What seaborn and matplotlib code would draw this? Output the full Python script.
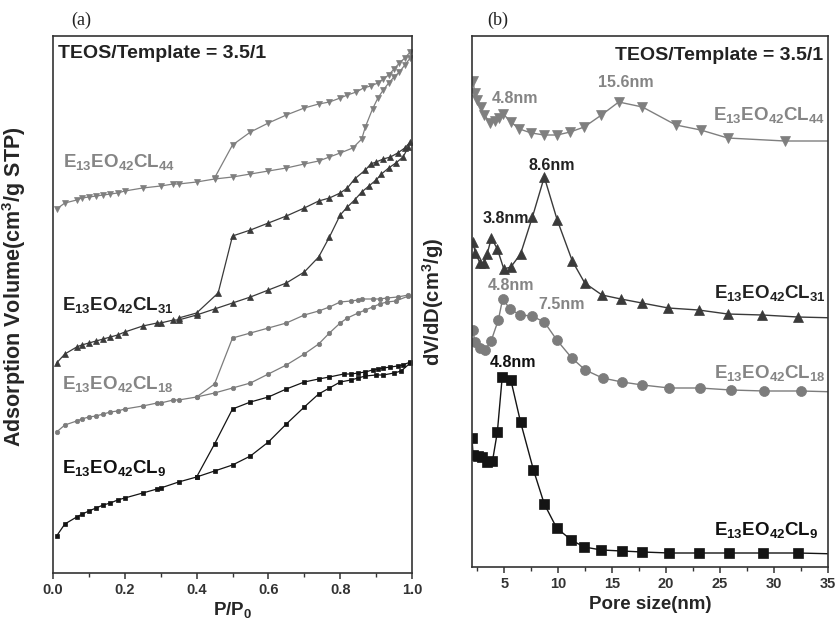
import matplotlib
matplotlib.use("Agg")
import matplotlib.pyplot as plt
import seaborn as sns
from matplotlib.ticker import MultipleLocator

# ---------------- data: panel (a) isotherms (arbitrary volume units) ----------------
p9_ads = [0.01, 0.033, 0.066, 0.082, 0.10, 0.12, 0.14, 0.16, 0.18, 0.20, 0.25, 0.29, 0.30, 0.35, 0.40,
          0.45, 0.50, 0.55, 0.60, 0.65, 0.70, 0.74, 0.77, 0.80, 0.83, 0.85, 0.87, 0.90, 0.92, 0.95, 0.97, 0.995]
v9_ads = [37, 49, 56, 59, 62, 65, 68, 70, 73, 75, 80, 84, 85, 91, 96,
          102, 108, 117, 131, 149, 166, 179, 185, 191, 193, 195, 197, 198, 198, 200, 202, 210]
p9_des = [0.995, 0.975, 0.96, 0.94, 0.92, 0.905, 0.89, 0.87, 0.85, 0.83, 0.81, 0.77, 0.74, 0.70, 0.65,
          0.60, 0.55, 0.50, 0.45, 0.40]
v9_des = [211, 208, 207, 206, 205, 204, 203, 201, 200, 199, 199, 196, 194, 191, 184,
          176, 171, 164, 129, 96]

p18_ads = [0.01, 0.033, 0.066, 0.08, 0.10, 0.12, 0.14, 0.16, 0.18, 0.20, 0.25, 0.29, 0.30, 0.335, 0.35,
           0.40, 0.45, 0.50, 0.55, 0.60, 0.65, 0.70, 0.74, 0.77, 0.80, 0.82, 0.85, 0.87, 0.89, 0.91,
           0.93, 0.955, 0.99]
v18_ads = [141, 148, 152, 154, 156, 157, 159, 161, 162, 164, 167, 170, 170, 173, 173,
           176, 180, 185, 190, 199, 208, 219, 229, 240, 250, 255, 260, 263, 266, 269,
           271, 272, 277]
p18_des = [0.99, 0.96, 0.93, 0.91, 0.89, 0.86, 0.85, 0.83, 0.80, 0.77, 0.74, 0.70, 0.65, 0.60, 0.55,
           0.50, 0.45, 0.40]
v18_des = [278, 276, 275, 274, 274, 274, 273, 272, 271, 266, 262, 258, 250, 245, 240,
           235, 189, 176]

p31_ads = [0.01, 0.033, 0.066, 0.08, 0.10, 0.12, 0.14, 0.16, 0.18, 0.20, 0.25, 0.29, 0.30, 0.335, 0.35,
           0.40, 0.45, 0.50, 0.55, 0.60, 0.65, 0.70, 0.74, 0.77, 0.80, 0.82, 0.84, 0.86, 0.88, 0.90,
           0.915, 0.935, 0.955, 0.975, 0.99]
v31_ads = [210, 219, 226, 228, 230, 232, 234, 236, 238, 241, 247, 250, 250, 253, 253,
           258, 264, 270, 276, 283, 290, 301, 316, 336, 358, 366, 373, 381, 387, 393,
           399, 405, 410, 416, 426]
p31_des = [0.995, 0.98, 0.96, 0.94, 0.92, 0.90, 0.885, 0.87, 0.84, 0.82, 0.80, 0.77, 0.74, 0.70, 0.65,
           0.60, 0.55, 0.50, 0.46, 0.40, 0.35]
v31_des = [431, 425, 420, 416, 414, 411, 409, 403, 394, 385, 380, 375, 372, 365, 357,
           350, 343, 337, 280, 260, 255]

p44_ads = [0.01, 0.033, 0.066, 0.08, 0.10, 0.12, 0.14, 0.16, 0.18, 0.20, 0.25, 0.30, 0.335, 0.35, 0.40,
           0.45, 0.50, 0.55, 0.60, 0.65, 0.70, 0.74, 0.77, 0.80, 0.835, 0.86, 0.87, 0.89, 0.905, 0.92,
           0.935, 0.95, 0.965, 0.98, 0.995]
v44_ads = [364, 370, 373, 375, 376, 377, 378, 379, 380, 382, 385, 387, 389, 389, 391,
           394, 396, 399, 402, 405, 409, 412, 416, 420, 425, 434, 446, 464, 475, 483,
           490, 496, 501, 508, 515]
p44_des = [0.995, 0.98, 0.965, 0.95, 0.935, 0.92, 0.905, 0.885, 0.865, 0.845, 0.82, 0.80, 0.77, 0.74, 0.70,
           0.65, 0.60, 0.55, 0.50, 0.45]
v44_des = [521, 515, 510, 504, 498, 494, 490, 487, 485, 481, 478, 475, 471, 469, 465,
           458, 450, 441, 428, 395]

# ---------------- data: panel (b) pore size distributions (offset, arbitrary units) ----------------
d9 = [2.0, 2.1, 2.6, 2.9, 3.35, 3.9, 4.35, 4.8, 5.6, 6.5, 7.7, 8.7, 9.85, 11.2, 12.4, 14.0, 15.9, 17.8,
      20.3, 23.0, 25.8, 29.0, 32.2, 36.0]
y9 = [129, 112, 111, 110, 105, 106, 135, 190, 187, 145, 97, 63, 39, 27, 20, 17, 16, 15,
      14, 14, 14, 14, 14, 13]
d18 = [2.1, 2.25, 2.75, 3.2, 3.77, 4.44, 4.84, 5.53, 6.46, 7.54, 8.7, 9.86, 11.25, 12.5, 14.1, 15.9,
       17.8, 20.3, 23.1, 26.0, 29.1, 32.5, 36.0]
y18 = [237, 225, 219, 217, 226, 247, 268, 258, 252, 251, 245, 227, 209, 197, 189, 185,
       182, 179, 179, 177, 176, 176, 175]
d31 = [2.1, 2.3, 2.75, 3.1, 3.4, 3.8, 4.35, 4.95, 5.6, 6.5, 7.6, 8.7, 9.9, 11.3, 12.45, 14.05, 15.8,
       17.75, 20.2, 23.0, 25.7, 28.9, 32.2, 36.0]
y31 = [325, 314, 304, 304, 313, 329, 318, 298, 300, 313, 350, 390, 347, 306, 284, 272, 268,
       264, 259, 257, 253, 252, 250, 249]
d44 = [2.1, 2.25, 2.5, 2.8, 3.15, 3.7, 4.15, 4.5, 4.9, 5.6, 6.4, 7.5, 8.7, 9.9, 11.1, 12.4, 14.0, 15.6,
       17.8, 20.9, 23.2, 25.7, 31.0, 36.0]
y44 = [486, 474, 467, 460, 452, 444, 446, 449, 453, 445, 438, 434, 432, 432, 435, 440, 452, 465,
       460, 442, 437, 429, 426, 426]

labels = [r"$\mathbf{E_{13}EO_{42}CL_{44}}$", r"$\mathbf{E_{13}EO_{42}CL_{31}}$",
          r"$\mathbf{E_{13}EO_{42}CL_{18}}$", r"$\mathbf{E_{13}EO_{42}CL_{9}}$"]
peak_labels = ["4.8nm", "15.6nm", "8.6nm", "3.8nm", "4.8nm", "7.5nm", "4.8nm"]

# ---------------- style ----------------
sns.set_style("ticks")
plt.rcParams["font.family"] = ["Liberation Sans", "DejaVu Sans"]
plt.rcParams["font.weight"] = "bold"
plt.rcParams["mathtext.fontset"] = "custom"
plt.rcParams["mathtext.rm"] = "Liberation Sans"
plt.rcParams["mathtext.bf"] = "Liberation Sans:bold"
plt.rcParams["mathtext.it"] = "Liberation Sans:italic"

c9, c18, c31, c44 = "#141414", "#7c7c7c", "#3a3a3a", "#7f7f7f"
t_gray = "#858585"
spine_c = "#333333"

fig = plt.figure(figsize=(8.39, 6.23), dpi=100)
axa = fig.add_axes([53 / 839, 1 - 573 / 623, 359 / 839, 537 / 623])
axb = fig.add_axes([472 / 839, 1 - 567 / 623, 356 / 839, 531 / 623])


def draw(ax, x, y, color, marker, ms, lw):
    sns.lineplot(x=x, y=y, sort=False, estimator=None, ax=ax, color=color, linewidth=lw,
                 marker=marker, markersize=ms, markeredgecolor=color, markerfacecolor=color,
                 markeredgewidth=0.5)


# panel (a)
for (pa, va, pd_, vd, col, mk, ms) in [
        (p9_ads, v9_ads, p9_des, v9_des, c9, "s", 3.2),
        (p18_ads, v18_ads, p18_des, v18_des, c18, "o", 3.2),
        (p31_ads, v31_ads, p31_des, v31_des, c31, "^", 3.8),
        (p44_ads, v44_ads, p44_des, v44_des, c44, "v", 3.8)]:
    draw(axa, pa, va, col, mk, ms, 0.9)
    draw(axa, pd_, vd, col, mk, ms, 0.9)

axa.set_xlim(0, 1.0)
axa.set_ylim(0, 537)
axa.set_yticks([])
axa.xaxis.set_major_locator(MultipleLocator(0.2))
axa.xaxis.set_minor_locator(MultipleLocator(0.1))
axa.set_xticks([0.0, 0.2, 0.4, 0.6, 0.8, 1.0])
axa.set_xticklabels(["0.0", "0.2", "0.4", "0.6", "0.8", "1.0"])
axa.set_xlabel(r"$\mathbf{P/P_0}$", fontsize=13.5, labelpad=2)
axa.set_ylabel(r"Adsorption Volume(cm$^\mathbf{3}$/g STP)", fontsize=15.5, fontweight="bold")
axa.yaxis.set_label_coords(-0.071, 0.534)

axa.text(0.014, 0.968, "TEOS/Template = 3.5/1", transform=axa.transAxes, fontsize=14,
         fontweight="bold", va="center", ha="left", color="#222222")
axa.text(0.028, 0.756, labels[0], transform=axa.transAxes, fontsize=13.5, color=t_gray, va="baseline")
axa.text(0.025, 0.490, labels[1], transform=axa.transAxes, fontsize=13.5, color="#222222", va="baseline")
axa.text(0.025, 0.343, labels[2], transform=axa.transAxes, fontsize=13.5, color=t_gray, va="baseline")
axa.text(0.025, 0.186, labels[3], transform=axa.transAxes, fontsize=13.5, color="#111111", va="baseline")

# panel (b)
draw(axb, d9, y9, c9, "s", 6.8, 1.0)
draw(axb, d18, y18, c18, "o", 7.2, 1.0)
draw(axb, d31, y31, c31, "^", 7.8, 1.0)
draw(axb, d44, y44, c44, "v", 7.8, 1.0)

axb.set_xlim(2, 35)
axb.set_ylim(0, 531)
axb.set_yticks([])
axb.xaxis.set_major_locator(MultipleLocator(5))
axb.xaxis.set_minor_locator(MultipleLocator(2.5))
axb.set_xticks([5, 10, 15, 20, 25, 30, 35])
axb.set_xticklabels(["5", "10", "15", "20", "25", "30", "35"])
axb.set_xlabel("Pore size(nm)", fontsize=13.5, fontweight="bold", labelpad=4)
axb.set_ylabel(r"dV/dD(cm$^\mathbf{3}$/g)", fontsize=14.5, fontweight="bold")
axb.yaxis.set_label_coords(-0.073, 0.499)

axb.text(0.986, 0.964, "TEOS/Template = 3.5/1", transform=axb.transAxes, fontsize=14,
         fontweight="bold", va="center", ha="right", color="#222222")
axb.text(0.992, 0.842, labels[0], transform=axb.transAxes, fontsize=13.5, color=t_gray, va="baseline", ha="right")
axb.text(0.992, 0.507, labels[1], transform=axb.transAxes, fontsize=13.5, color="#222222", va="baseline", ha="right")
axb.text(0.992, 0.356, labels[2], transform=axb.transAxes, fontsize=13.5, color=t_gray, va="baseline", ha="right")
axb.text(0.972, 0.060, labels[3], transform=axb.transAxes, fontsize=13.5, color="#111111", va="baseline", ha="right")

peak_pos = [(0.121, 0.883), (0.433, 0.913), (0.225, 0.757), (0.096, 0.657),
            (0.110, 0.531), (0.253, 0.495), (0.115, 0.386)]
peak_cols = [t_gray, t_gray, "#222222", "#222222", t_gray, t_gray, "#111111"]
for lab, (px, py), col in zip(peak_labels, peak_pos, peak_cols):
    axb.text(px, py, lab, transform=axb.transAxes, fontsize=11.5, fontweight="bold",
             color=col, ha="center", va="center")

for ax in (axa, axb):
    for s in ax.spines.values():
        s.set_color(spine_c)
        s.set_linewidth(1.2)
        s.set_visible(True)
    ax.tick_params(axis="x", which="major", direction="out", length=4, width=1.1, color=spine_c,
                   labelsize=10.5, labelcolor="#333333", pad=3)
    ax.tick_params(axis="x", which="minor", direction="out", length=3, width=1.0, color=spine_c)
    for t in ax.get_xticklabels():
        t.set_fontweight("bold")

fig.text(81 / 839, 1 - 20 / 623, "(a)", fontsize=13, family=["Liberation Serif", "DejaVu Serif"],
         fontweight="normal", ha="center", va="center", color="#222222")
fig.text(498 / 839, 1 - 20 / 623, "(b)", fontsize=13, family=["Liberation Serif", "DejaVu Serif"],
         fontweight="normal", ha="center", va="center", color="#222222")

fig.savefig("out.png", dpi=100)
